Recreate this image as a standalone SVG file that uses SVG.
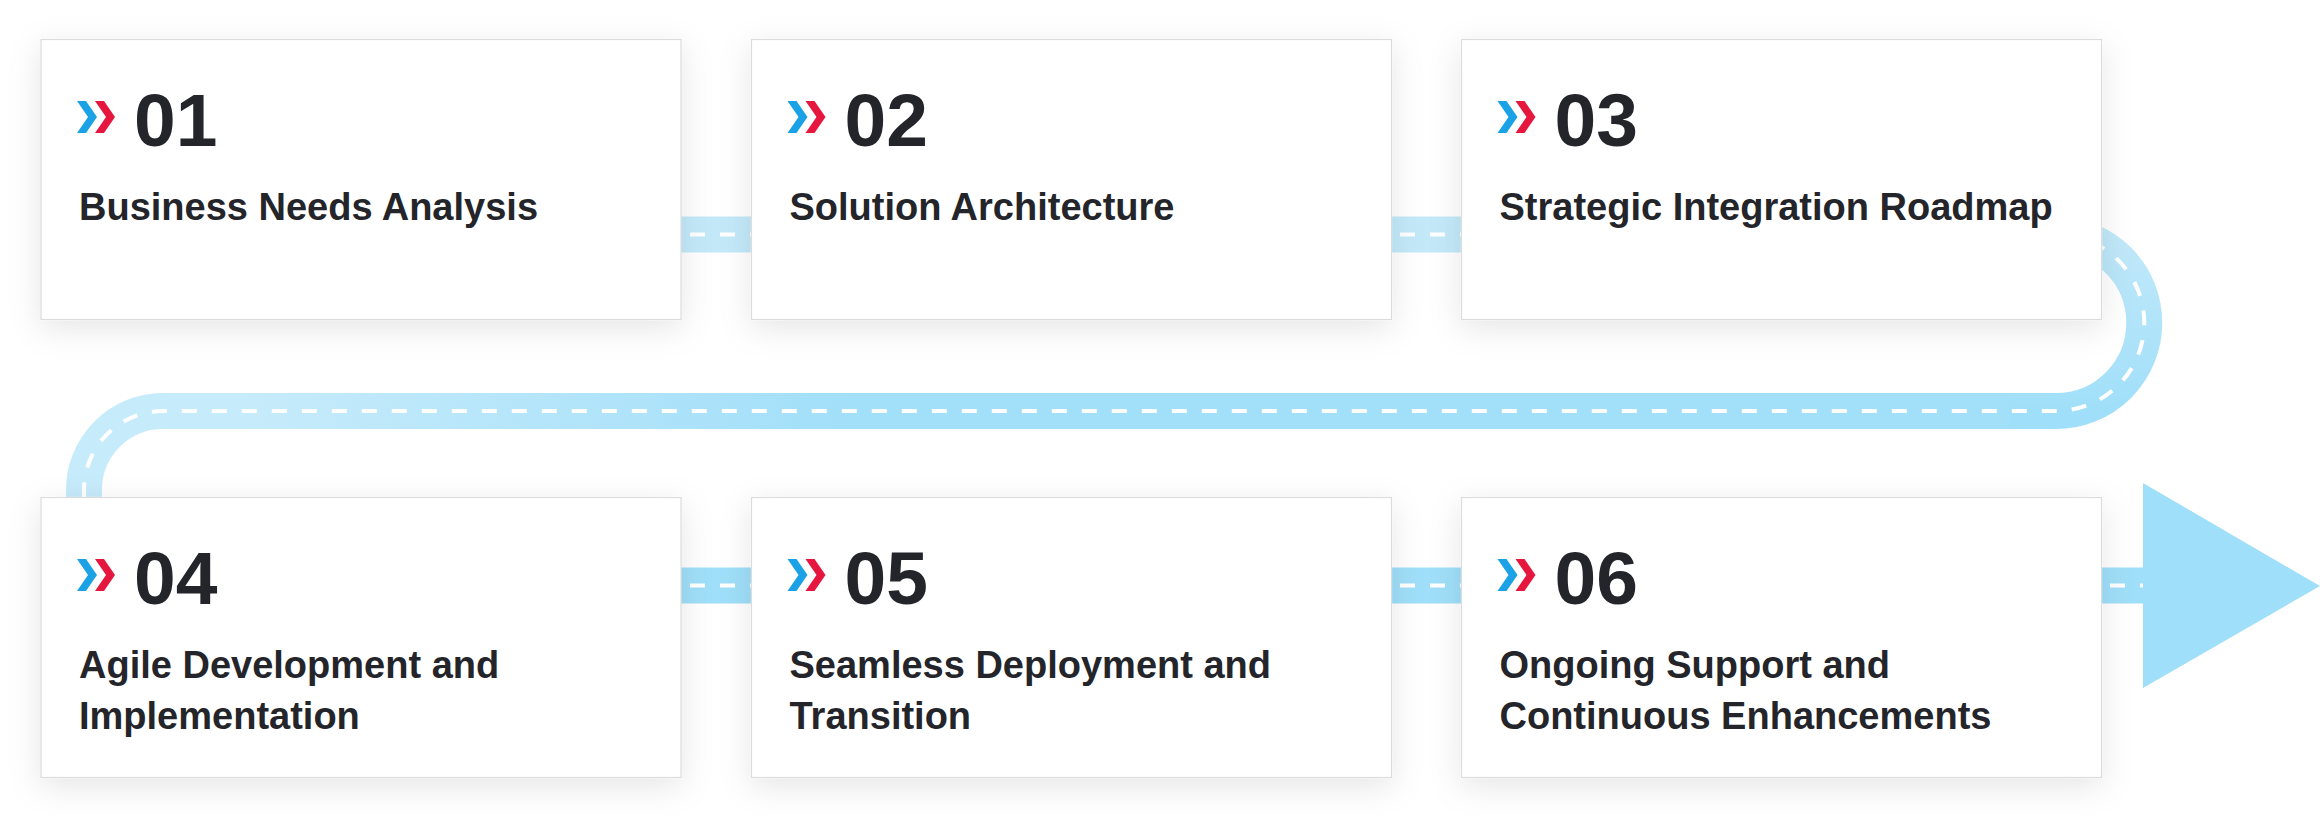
<svg xmlns="http://www.w3.org/2000/svg" xmlns:xlink="http://www.w3.org/1999/xlink" width="2320" height="824" viewBox="0 0 2320 824">
<style>
.box{fill:#ffffff;stroke:#dcdcdc;stroke-width:1.2;filter:url(#sh)}
.num{font-family:"Liberation Sans",Arial,sans-serif;font-weight:700;font-size:75px;fill:#24252a}
.ttl{font-family:"Liberation Sans",Arial,sans-serif;font-weight:700;font-size:38px;fill:#24252a}
.road{fill:none;stroke-width:36;stroke-linecap:butt}
.lane{fill:none;stroke:#ffffff;stroke-width:4;stroke-dasharray:15 15}
</style>
<defs>
<filter id="sh" x="-10%" y="-20%" width="120%" height="150%">
<feDropShadow dx="0" dy="8" stdDeviation="16" flood-color="#000000" flood-opacity="0.10"/>
</filter>
<linearGradient id="gU" gradientUnits="userSpaceOnUse" x1="0" y1="234" x2="0" y2="411">
<stop offset="0" stop-color="#c2e9fa"/><stop offset="1" stop-color="#a0dff9"/>
</linearGradient>
<linearGradient id="gM" gradientUnits="userSpaceOnUse" x1="250" y1="0" x2="850" y2="0">
<stop offset="0" stop-color="#c6ebfb"/><stop offset="1" stop-color="#a2dff9"/>
</linearGradient>
<g id="chev">
<polygon points="0,0 9,0 20,16 9,32 0,32 11,16" fill="#1ba1e6"/>
<polygon points="18,0 27,0 38,16 27,32 18,32 29,16" fill="#e5173e"/>
</g>
</defs>
<rect width="2320" height="824" fill="#ffffff"/>
<g id="connectors">
<path class="road" stroke="#c3e9f9" d="M660 234.5H780M1370 234.5H1490"/>
<path class="road" stroke="url(#gU)" d="M2000 234.5H2056A88.25 88.25 0 0 1 2056 411H2000"/>
<path class="road" stroke="url(#gM)" d="M2010 411H163A79 79 0 0 0 84 490V520"/>
<path class="road" stroke="#a0dff9" d="M660 585.5H780M1370 585.5H1490M2080 585.5H2150"/>
<polygon points="2143,483 2320,586 2143,688" fill="#a0dff9"/>
<path class="lane" d="M660 234.5H780M1370 234.5H1490"/>
<path class="lane" d="M2080 234.5H2056A88.25 88.25 0 0 1 2056 411H163A79 79 0 0 0 84 490V520"/>
<path class="lane" d="M660 585.5H780M1370 585.5H1490M2080 585.5H2143"/>
</g>
<g id="node-01">
<rect class="box" x="41" y="39.5" width="640" height="280"/>
<use xlink:href="#chev" x="77" y="101"/>
<text class="num" x="134" y="146">01</text>
<text class="ttl" x="79" y="219.5">Business Needs Analysis</text>
</g>
<g id="node-02">
<rect class="box" x="751.5" y="39.5" width="640" height="280"/>
<use xlink:href="#chev" x="787.5" y="101"/>
<text class="num" x="844.5" y="146">02</text>
<text class="ttl" x="789.5" y="219.5">Solution Architecture</text>
</g>
<g id="node-03">
<rect class="box" x="1461.5" y="39.5" width="640" height="280"/>
<use xlink:href="#chev" x="1497.5" y="101"/>
<text class="num" x="1554.5" y="146">03</text>
<text class="ttl" x="1499.5" y="219.5">Strategic Integration Roadmap</text>
</g>
<g id="node-04">
<rect class="box" x="41" y="497.5" width="640" height="280"/>
<use xlink:href="#chev" x="77" y="559"/>
<text class="num" x="134" y="604">04</text>
<text class="ttl" x="79" y="677.5">Agile Development and</text>
<text class="ttl" x="79" y="729">Implementation</text>
</g>
<g id="node-05">
<rect class="box" x="751.5" y="497.5" width="640" height="280"/>
<use xlink:href="#chev" x="787.5" y="559"/>
<text class="num" x="844.5" y="604">05</text>
<text class="ttl" x="789.5" y="677.5">Seamless Deployment and</text>
<text class="ttl" x="789.5" y="729">Transition</text>
</g>
<g id="node-06">
<rect class="box" x="1461.5" y="497.5" width="640" height="280"/>
<use xlink:href="#chev" x="1497.5" y="559"/>
<text class="num" x="1554.5" y="604">06</text>
<text class="ttl" x="1499.5" y="677.5">Ongoing Support and</text>
<text class="ttl" x="1499.5" y="729">Continuous Enhancements</text>
</g>
</svg>
